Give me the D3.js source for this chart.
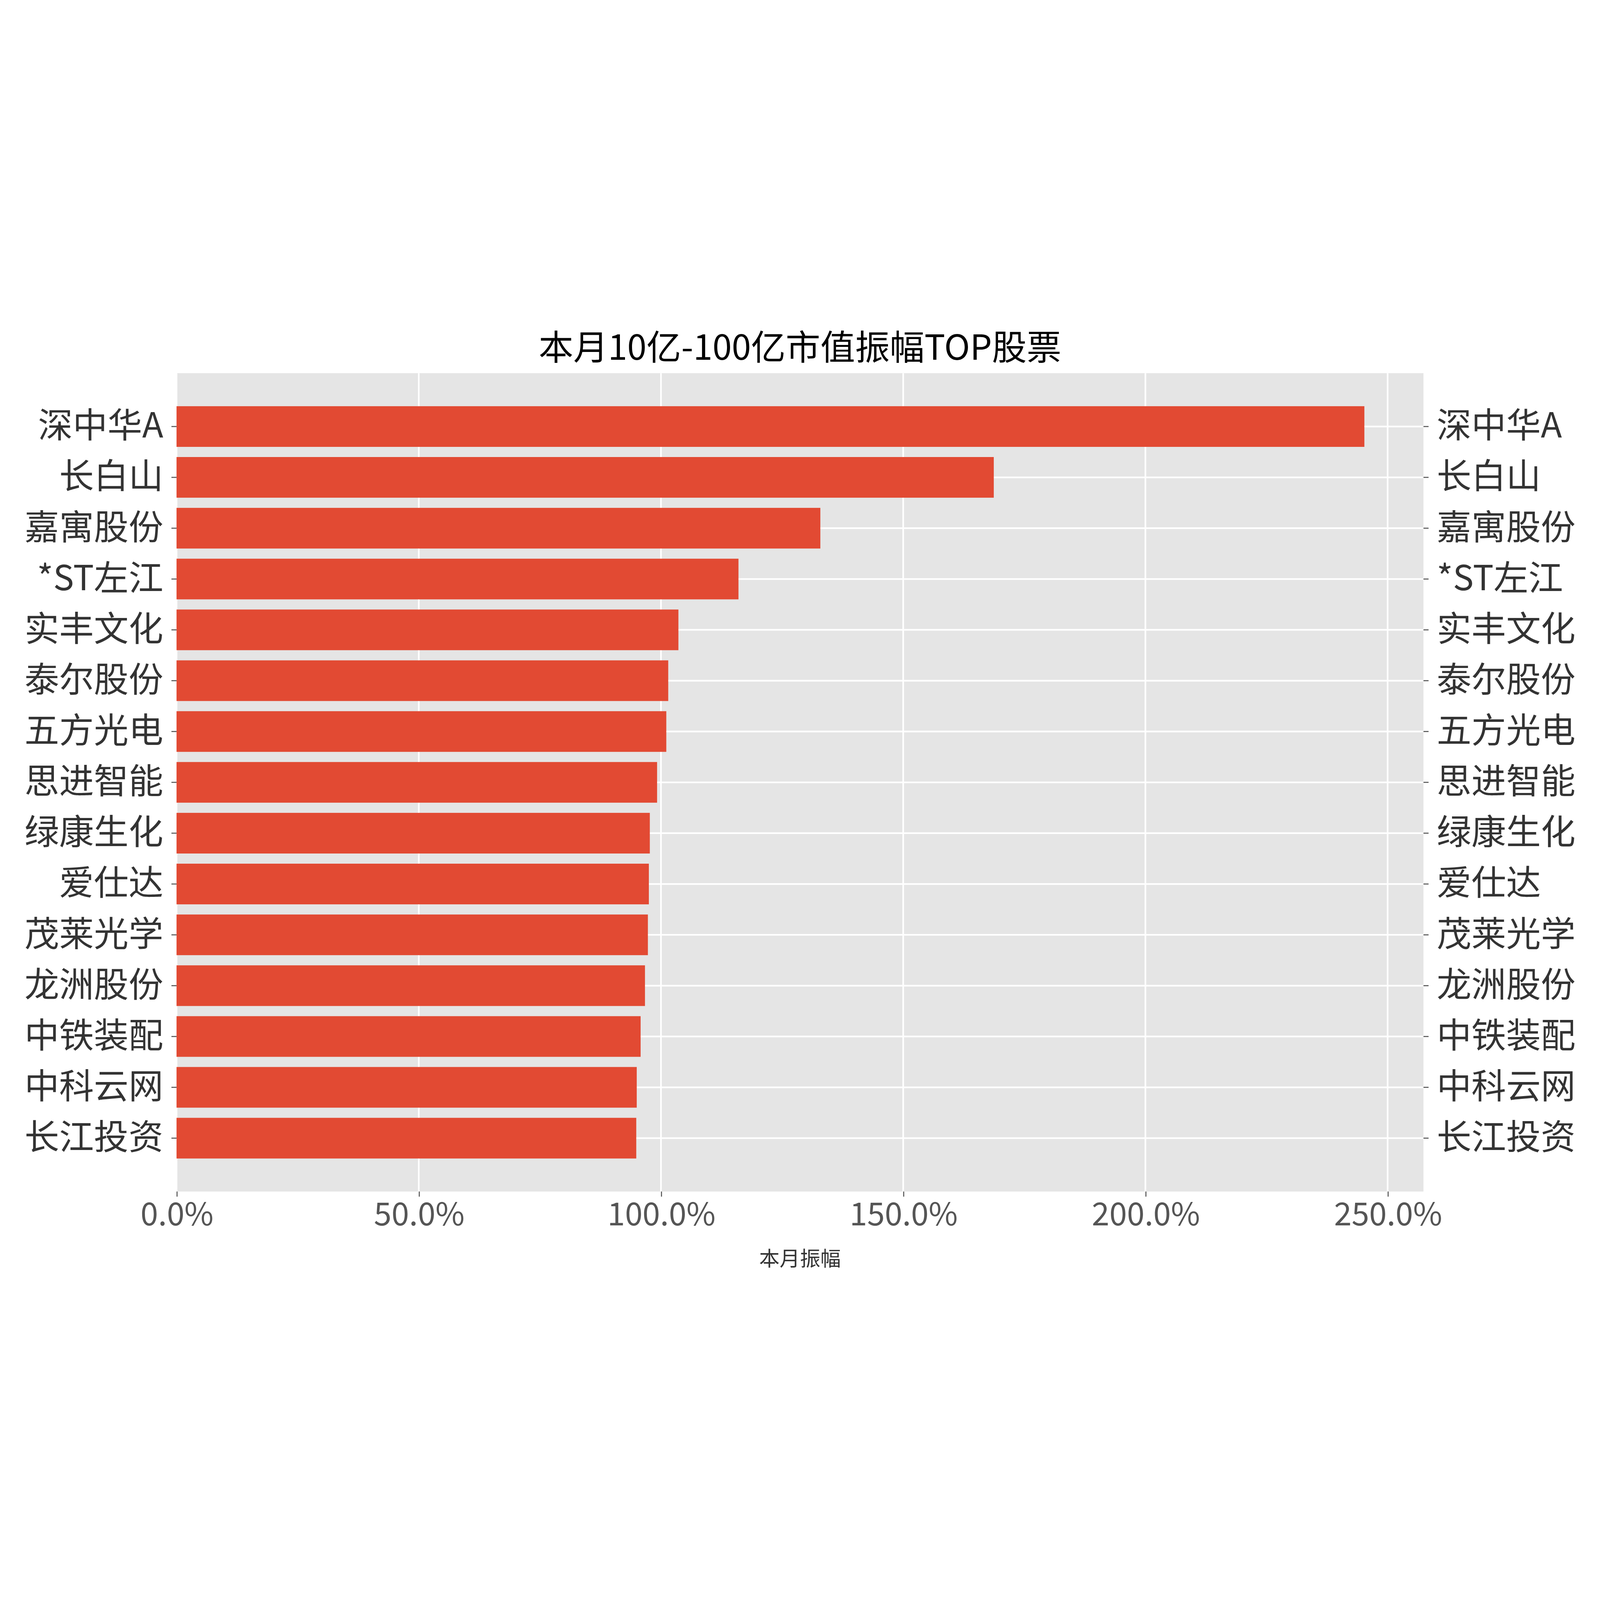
<!DOCTYPE html>
<html><head><meta charset="utf-8">
<script src="https://cdn.jsdelivr.net/npm/d3@7"></script>
<style>html,body{margin:0;padding:0;background:#fff;overflow:hidden;width:100%;height:100%}svg{display:block}</style>
</head><body>
<script>
const names = ["深中华A","长白山","嘉寓股份","*ST左江","实丰文化","泰尔股份","五方光电","思进智能","绿康生化","爱仕达","茂莱光学","龙洲股份","中铁装配","中科云网","长江投资"];
const amplitude = [245.2,168.7,132.9,116.0,103.6,101.5,101.1,99.2,97.7,97.5,97.3,96.7,95.8,95.0,94.9];
const xTicks = [0,50,100,150,200,250];

const W = 1568, H = 946.6;
const m = {left:173, right:1395, top:55, bottom:857};
const font = "'Noto Sans CJK SC', sans-serif";

const svg = d3.select("body").append("svg")
  .attr("width", "100%").attr("height", "100%")
  .attr("viewBox", `0 0 ${W} ${H}`)
  .attr("preserveAspectRatio", "xMidYMid meet")
  .style("font-family", font);

svg.append("rect").attr("x", m.left).attr("y", m.top)
  .attr("width", m.right - m.left).attr("height", m.bottom - m.top).attr("fill", "#E5E5E5");

const x = d3.scaleLinear().domain([0, 257.4]).range([m.left, m.right]);
const y = d3.scaleBand().domain(names).range([m.top, m.bottom]).paddingInner(0.2).paddingOuter(0.65);

// grid
svg.append("g").selectAll("line").data(xTicks).join("line")
  .attr("x1", d => x(d)).attr("x2", d => x(d)).attr("y1", m.top).attr("y2", m.bottom)
  .attr("stroke", "#fff").attr("stroke-width", 1.6);
svg.append("g").selectAll("line").data(names).join("line")
  .attr("x1", m.left).attr("x2", m.right)
  .attr("y1", d => y(d) + y.bandwidth()/2).attr("y2", d => y(d) + y.bandwidth()/2)
  .attr("stroke", "#fff").attr("stroke-width", 1.6);

// bars
svg.append("g").selectAll("rect").data(names).join("rect")
  .attr("x", x(0)).attr("y", d => y(d))
  .attr("width", (d, i) => x(amplitude[i]) - x(0)).attr("height", y.bandwidth())
  .attr("fill", "#E24A33");

// axes
const xAxis = svg.append("g").attr("transform", `translate(0,${m.bottom})`)
  .call(d3.axisBottom(x).tickValues(xTicks).tickFormat(d => d.toFixed(1) + "%").tickSize(5).tickPadding(6));
xAxis.select(".domain").remove();
xAxis.selectAll("line").attr("stroke", "#555");
xAxis.selectAll("text").attr("fill", "#555").style("font-size", "31px").style("font-family", font);

const yl = svg.append("g").attr("transform", `translate(${m.left},0)`)
  .call(d3.axisLeft(y).tickSize(5).tickPadding(8));
const yr = svg.append("g").attr("transform", `translate(${m.right},0)`)
  .call(d3.axisRight(y).tickSize(5).tickPadding(8));
[yl, yr].forEach(g => {
  g.select(".domain").remove();
  g.selectAll("line").attr("stroke", "#555");
  g.selectAll("text").attr("fill", "#333").style("font-size", "34px").style("font-family", font);
});

svg.append("text").attr("x", (m.left + m.right)/2).attr("y", 930)
  .attr("text-anchor", "middle").attr("fill", "#333").style("font-size", "20px")
  .text("本月振幅");

svg.append("text").attr("x", (m.left + m.right)/2).attr("y", 42)
  .attr("text-anchor", "middle").attr("fill", "#000").style("font-size", "34px")
  .text("本月10亿-100亿市值振幅TOP股票");
</script>
</body></html>
